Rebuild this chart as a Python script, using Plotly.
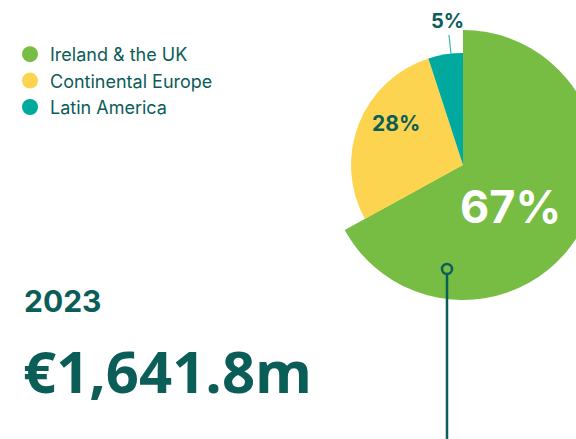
import plotly.graph_objects as go

W, H = 600, 439

regions = ['Ireland & the UK', 'Continental Europe', 'Latin America']
shares = [67, 28, 5]
colors = ['#77bc43', '#fdd44f', '#00a99d']
year = '2023'
revenue = '€1,641.8m'

dark = '#0b5d58'
font = 'Inter'


def px(x):
    return x / W


def py(y):
    return 1 - y / H


def dom(cx, cy, r):
    return {'x': [px(cx - r), px(cx + r)], 'y': [py(cy + r), py(cy - r)]}


cx, cy = 463, 165

# big pie: only the leading slice shows at full radius
big = go.Pie(
    values=shares, labels=regions, sort=False, direction='clockwise',
    marker={'colors': [colors[0], 'rgba(0,0,0,0)', 'rgba(0,0,0,0)'],
            'line': {'width': 0}},
    textinfo='none', hoverinfo='label+percent', showlegend=False,
    domain=dom(cx, cy, 135)
)
small = go.Pie(
    values=shares, labels=regions, sort=False, direction='clockwise',
    marker={'colors': colors, 'line': {'width': 0}},
    textinfo='none', hoverinfo='label+percent', showlegend=False,
    domain=dom(cx, cy, 112)
)

data = [big, small]
for name, c in zip(regions, colors):
    data.append(go.Scatter(
        x=[None], y=[None], mode='markers', name=name,
        marker={'color': c, 'size': 18, 'symbol': 'circle'}
    ))

label_pos = [(510, 206, 45, 'white'), (396, 124, 21, dark), (447, 21, 20, dark)]
annotations = []
for v, (x, y, s, c) in zip(shares, label_pos):
    annotations.append(dict(
        x=px(x), y=py(y), xref='paper', yref='paper', text='<b>{}%</b>'.format(v),
        showarrow=False, font={'size': s, 'color': c, 'family': font},
        xanchor='center', yanchor='middle'
    ))
annotations.append(dict(
    x=px(22), y=py(301), xref='paper', yref='paper', text='<b>' + year + '</b>',
    showarrow=False, font={'size': 30, 'color': dark, 'family': font},
    xanchor='left', yanchor='middle'
))
annotations.append(dict(
    x=px(21), y=py(370), xref='paper', yref='paper', text='<b>' + revenue + '</b>',
    showarrow=False, font={'size': 58, 'color': dark, 'family': 'Open Sans'},
    xanchor='left', yanchor='middle'
))

shapes = [
    dict(type='line', xref='paper', yref='paper', x0=px(449), y0=py(35),
         x1=px(451), y1=py(54), line={'color': '#3bb5aa', 'width': 1.2}),
    dict(type='line', xref='paper', yref='paper', x0=px(447), y0=py(274),
         x1=px(447), y1=py(445), line={'color': dark, 'width': 2.5}),
    dict(type='circle', xref='paper', yref='paper', x0=px(442), y0=py(264),
         x1=px(452), y1=py(274), line={'color': dark, 'width': 2.5},
         fillcolor=colors[0]),
]

layout = go.Layout(
    width=W, height=H,
    margin={'l': 0, 'r': 0, 't': 0, 'b': 0},
    paper_bgcolor='white', plot_bgcolor='white',
    xaxis={'visible': False}, yaxis={'visible': False},
    legend={'x': px(10), 'y': py(36), 'xanchor': 'left', 'yanchor': 'top',
            'font': {'size': 18, 'color': dark, 'family': font},
            'tracegroupgap': 0, 'bgcolor': 'rgba(0,0,0,0)'},
    annotations=annotations, shapes=shapes,
    font={'family': font}
)

fig = go.Figure(data=data, layout=layout)
fig.write_html('out.html', config={'displayModeBar': False},
               post_script="document.body.style.margin='0';document.body.style.overflow='hidden';")
